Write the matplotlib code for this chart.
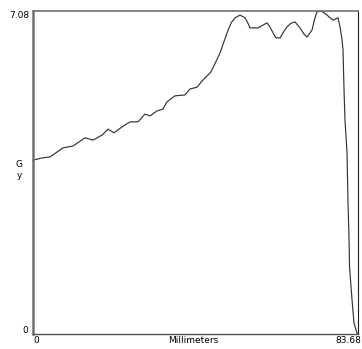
import matplotlib
matplotlib.use("Agg")
import matplotlib.pyplot as plt

# Data (x in millimeters, y in G)
mm = [0.0, 2.32, 4.38, 7.72, 10.30, 13.39, 15.45, 17.77, 19.31, 20.86, 22.92,
      24.98, 27.04, 28.84, 30.12, 31.93, 33.47, 34.50, 36.56, 39.14, 40.42,
      42.23, 43.77, 45.57, 46.09, 48.15, 50.21, 51.10, 52.01, 53.30, 54.59,
      55.30, 55.87, 57.93, 60.25, 61.02, 61.80, 62.57, 63.60, 64.50, 65.40,
      66.40, 67.46, 68.75, 69.70, 70.55, 71.84, 72.50, 73.12, 73.90, 74.80,
      75.70, 77.24, 78.53, 79.05, 79.50, 79.82, 80.08, 80.33, 80.85,
      81.11, 81.36, 81.50, 82.14, 82.65, 83.42, 83.68]
g = [3.81, 3.86, 3.88, 4.08, 4.12, 4.30, 4.25, 4.36, 4.49, 4.41, 4.54,
     4.65, 4.65, 4.82, 4.78, 4.89, 4.93, 5.09, 5.22, 5.24, 5.37,
     5.41, 5.57, 5.72, 5.79, 6.16, 6.66, 6.83, 6.93, 6.99, 6.93,
     6.82, 6.71, 6.71, 6.82, 6.73, 6.60, 6.49, 6.49, 6.62, 6.73,
     6.81, 6.84, 6.71, 6.58, 6.51, 6.66, 6.90, 7.06, 7.08, 7.05,
     6.99, 6.88, 6.93, 6.73, 6.50, 6.23, 5.35, 4.69, 3.97,
     2.87, 2.13, 1.47, 0.75, 0.24, 0.02, 0.0]

x_min, x_max = 0, 83.68
y_min, y_max = 0, 7.08
x_label = "Millimeters"
y_label = "G\ny"

W, H = 362, 349
fig = plt.figure(figsize=(W / 100, H / 100), dpi=100)
ax = fig.add_axes([33 / W, (H - 334) / H, 325 / W, 323 / H])
ax.plot(mm, g, color="#333333", lw=0.85, clip_on=False)
ax.set_xlim(x_min, x_max)
ax.set_ylim(y_min, y_max)
ax.set_xticks([])
ax.set_yticks([])
ax.spines["left"].set_color("#707070")
ax.spines["left"].set_linewidth(1.8)
ax.spines["top"].set_color("#707070")
ax.spines["top"].set_linewidth(1.2)
ax.spines["bottom"].set_color("#505050")
ax.spines["bottom"].set_linewidth(1.0)
ax.spines["right"].set_color("#202020")
ax.spines["right"].set_linewidth(0.8)

fs = 6.5
def px(x, y):
    return x / W, 1 - y / H

fig.text(*px(29, 15.5), f"{y_max:.2f}", ha="right", va="center", fontsize=fs)
fig.text(*px(28, 330.5), f"{y_min:g}", ha="right", va="center", fontsize=fs)
fig.text(*px(33, 340.5), f"{x_min:g}", ha="left", va="center", fontsize=fs)
fig.text(*px(335, 340.5), f"{x_max:.2f}", ha="left", va="center", fontsize=fs)
fig.text(*px(193, 340.5), x_label, ha="center", va="center", fontsize=fs)
fig.text(*px(19.5, 170), y_label, ha="center", va="center", fontsize=fs,
         linespacing=1.3)

fig.savefig("out.png", dpi=100)
